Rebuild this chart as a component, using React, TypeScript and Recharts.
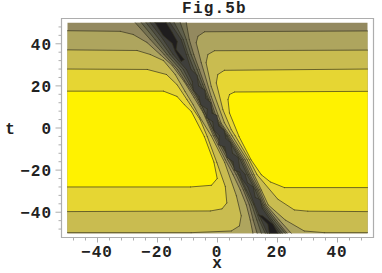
import { ScatterChart, Scatter, XAxis, YAxis, ReferenceArea } from 'recharts'

type Pair = [number, number]

const X_TICKS = [-48, -44, -40, -36, -32, -28, -24, -20, -16, -12, -8, -4, 0, 4, 8, 12, 16, 20, 24, 28, 32, 36, 40, 44, 48]
const T_TICKS = [-48, -44, -40, -36, -32, -28, -24, -20, -16, -12, -8, -4, 0, 4, 8, 12, 16, 20, 24, 28, 32, 36, 40, 44, 48]
const MAJOR_TICKS = [-40, -20, 0, 20, 40]

// contour outlines, as [x, t]
const FIELD: Pair[] = [[-50, 50], [50, 50], [50, -50], [-50, -50]]

const BAND_1: Pair[] = [
  [-27.4, 50], [-22.4, 42], [-17.8, 34.9], [-13.4, 27.8], [-10.1, 20.6], [-6.8, 13.5], [-3.8, 4.9], [-0.9, -3.7], [3.4, -15.1], [6.2, -22.2], [8.6, -29.4], [10.6, -36.5], [11.9, -43.7], [13.2, -50],
  [23.2, -50], [19.6, -43.7], [15.7, -36.5], [13.6, -29.4], [10.9, -22.2], [8.6, -15.1], [3.6, -3.7], [-0.3, 4.9], [-2.4, 13.5], [-4.3, 20.6], [-6.1, 27.8], [-7.9, 34.9], [-9.4, 42], [-10.4, 50],
]
const BAND_2: Pair[] = [
  [-25.4, 50], [-20.8, 42], [-16.8, 34.9], [-12.4, 27.8], [-9.4, 20.6], [-6.3, 13.5], [-3.3, 4.9], [-0.4, -3.7], [4.1, -15.1], [6.9, -22.2], [9.2, -29.4], [11.4, -36.5], [13.1, -43.7], [14.6, -50],
  [22.6, -50], [18.9, -43.7], [15.2, -36.5], [13.1, -29.4], [10.4, -22.2], [8.1, -15.1], [3.2, -3.7], [-0.8, 4.9], [-2.9, 13.5], [-4.9, 20.6], [-6.8, 27.8], [-8.8, 34.9], [-10.4, 42], [-12.4, 50],
]
const BAND_3: Pair[] = [
  [-23.8, 50], [-19.4, 42], [-15.8, 34.9], [-11.4, 27.8], [-8.8, 20.6], [-6.2, 13.5], [-3.3, 4.9], [-0.3, -3.7], [4.4, -15.1], [7.2, -22.2], [9.6, -29.4], [12.1, -36.5], [13.9, -43.7], [15.9, -50],
  [21.6, -50], [18.2, -43.7], [14.7, -36.5], [12.6, -29.4], [9.9, -22.2], [7.6, -15.1], [2.9, -3.7], [-1.1, 4.9], [-3.2, 13.5], [-5.6, 20.6], [-7.8, 27.8], [-9.8, 34.9], [-11.4, 42], [-14.4, 50],
]
const BAND_4: Pair[] = [
  [-22.4, 50], [-18.1, 42], [-14.8, 34.9], [-10.4, 27.8], [-8.4, 22], [-8.1, 18], [-6.2, 15], [-5.6, 11], [-3.4, 9], [-3.6, 5], [-1.6, 3], [-1.2, -1], [0.6, -3.7], [0.4, -8], [2.4, -9], [3.2, -14], [5.2, -16], [5.6, -20], [7.4, -21], [8.1, -24], [10.1, -28], [12.2, -36], [14.6, -43.7], [16.6, -50],
  [20.9, -50], [17.6, -43.7], [14.9, -38], [14.2, -34], [12.6, -33], [11.9, -28], [10, -26], [9.2, -22], [7.4, -19], [6.9, -14], [5, -12], [4.4, -7], [2.8, -5], [2.2, -1], [0.4, 1], [-0.2, 6], [-1.8, 7], [-2.2, 12], [-3.9, 14], [-4.2, 18], [-6.3, 20], [-6.8, 25], [-8.8, 27.8], [-10.4, 34.9], [-12.1, 42], [-15.8, 50],
]
const CORE_TOP: Pair[] = [[-20.8, 50], [-17.1, 50], [-15.1, 45.4], [-13.4, 41.1], [-13.8, 37.3], [-11.1, 32.5], [-12.1, 31.6], [-14.1, 36.4], [-15.1, 40.2], [-18.1, 43.9]]
const CORE_BOTTOM: Pair[] = [[15.1, -41.8], [18.5, -45.7], [20.1, -50], [17.3, -50], [16.8, -45.7], [13.6, -41.2]]

const LEVEL_4_LEFT: Pair[] = [[-50, 46.2], [-32.4, 45.9], [-28.1, 44.4], [-23.5, 40.6], [-19.1, 34.9], [-15.1, 29.7], [-11.1, 22], [-7.8, 14.4], [-4.8, 7.3], [-1.4, -3.7], [2.6, -15.1], [5.2, -22.2], [7.6, -29.4], [9.6, -36.5], [10.9, -43.7], [11.8, -50], [-50, -50]]
const LEVEL_4_RIGHT: Pair[] = [[50, 46.1], [-4.3, 45.7], [-6.5, 43.6], [-7.1, 40.5], [-5.4, 31], [-2.1, 15], [1.2, 2.4], [4.1, -3.7], [9.2, -15.1], [11.6, -22.2], [14.1, -29.4], [16.2, -36.5], [20.6, -43.7], [24.6, -50], [50, -50]]
const LEVEL_3_LEFT: Pair[] = [[-50, 37.1], [-26.8, 36.8], [-22.4, 34.9], [-18, 32], [-14.1, 25.4], [-10.8, 17.3], [-8.1, 11], [-5.8, 4.9], [-2.1, -3.7], [2.4, -16.4], [6.3, -32.2], [7.9, -41.7], [7.3, -46.5], [4.6, -48.9], [-8.8, -49.7], [-50, -49.7]]
const LEVEL_3_RIGHT: Pair[] = [[50, 37], [-1, 36.7], [-3.2, 34.9], [-3.8, 31], [-2.1, 19.8], [2.3, 2.5], [4.9, -3.7], [9.9, -15.1], [12.2, -22.2], [14.6, -29.4], [16.9, -36.5], [22.6, -43.7], [28.9, -48.9], [35.6, -49.7], [50, -49.7]]
const LEVEL_2_LEFT: Pair[] = [[-50, 28], [-23.4, 27.8], [-17, 25.4], [-13.5, 20.6], [-10.2, 13.5], [-5.8, 4], [-3.4, -4.1], [-0.2, -16.5], [2.6, -27.8], [3.1, -35.6], [1.5, -38.4], [-2.4, -39.4], [-50, -39.7]]
const LEVEL_2_RIGHT: Pair[] = [[50, 28], [2.3, 27.4], [0.1, 25.4], [-0.4, 21.4], [1.8, 8.7], [4.6, -0.8], [5.9, -3.7], [10.6, -15.1], [13.2, -22.2], [20.1, -33.8], [25.6, -38.9], [30.1, -39.5], [50, -39.7]]
const LEVEL_1_LEFT: Pair[] = [[-50, 17.5], [-18, 17.5], [-13.5, 15], [-11, 11], [-8.7, 7.8], [-4.4, -4], [-1.2, -16.2], [-0.1, -24], [-2, -27.2], [-9, -28], [-50, -28]]
const LEVEL_1_RIGHT: Pair[] = [[50, 17.4], [5.7, 17.1], [4, 15.9], [3.5, 13.5], [4, 7.1], [7.2, -4.1], [11.2, -15.1], [14.6, -22.2], [17.6, -25.6], [22.3, -28.3], [50, -28.3]]

const LAYERS: { name: string; outline: Pair[]; fill: string }[] = [
  { name: 'field', outline: FIELD, fill: '#93895f' },
  { name: 'band1', outline: BAND_1, fill: '#757152' },
  { name: 'band2', outline: BAND_2, fill: '#5f5f4c' },
  { name: 'band3', outline: BAND_3, fill: '#4e4e44' },
  { name: 'band4', outline: BAND_4, fill: '#3f3f3b' },
  { name: 'coreTop', outline: CORE_TOP, fill: '#1f1d1e' },
  { name: 'coreBottom', outline: CORE_BOTTOM, fill: '#1f1d1e' },
  { name: 'level4l', outline: LEVEL_4_LEFT, fill: '#aea55e' },
  { name: 'level4r', outline: LEVEL_4_RIGHT, fill: '#aea55e' },
  { name: 'level3l', outline: LEVEL_3_LEFT, fill: '#c9bc50' },
  { name: 'level3r', outline: LEVEL_3_RIGHT, fill: '#c9bc50' },
  { name: 'level2l', outline: LEVEL_2_LEFT, fill: '#e6d633' },
  { name: 'level2r', outline: LEVEL_2_RIGHT, fill: '#e6d633' },
  { name: 'level1l', outline: LEVEL_1_LEFT, fill: '#fff200' },
  { name: 'level1r', outline: LEVEL_1_RIGHT, fill: '#fff200' },
]

const FONT = '"Liberation Mono", "DejaVu Sans Mono", monospace'
const INK = '#222'
const FRAME = '#adadad'

const fmt = (v: number) => (v < 0 ? `\u2212${-v}` : `${v}`)

// the edge of the plotted square carries no contour line
const onEdge = (a: Pair, b: Pair) =>
  (Math.abs(a[0]) === 50 && a[0] === b[0]) || (Math.abs(a[1]) === 50 && a[1] === b[1])

function contourShape(outline: Pair[], fill: string) {
  return (props: any) => {
    const pts: { x: number; y: number }[] = props.points
    const area = pts.map((p, i) => `${i ? 'L' : 'M'}${p.x},${p.y}`).join('') + 'Z'
    let line = ''
    pts.forEach((p, i) => {
      const next = (i + 1) % pts.length
      if (onEdge(outline[i], outline[next])) return
      line += `M${p.x},${p.y}L${pts[next].x},${pts[next].y}`
    })
    return (
      <g>
        <path d={area} fill={fill} stroke="none" />
        <path d={line} fill="none" stroke="#332f1c" strokeOpacity={0.75} strokeWidth={0.9} strokeLinecap="round" />
      </g>
    )
  }
}

function XTick({ x, y, payload }: any) {
  const major = MAJOR_TICKS.includes(payload.value)
  return (
    <g>
      <line x1={x} x2={x} y1={y} y2={y + (major ? 5 : 3)} stroke={FRAME} />
      {major && (
        <text x={x - 0.5} y={y + 19.5} textAnchor="middle" fontFamily={FONT} fontWeight={700} fontSize={16} letterSpacing={1} fill={INK}>
          {fmt(payload.value)}
        </text>
      )}
    </g>
  )
}

function YTick({ x, y, payload }: any) {
  const major = MAJOR_TICKS.includes(payload.value)
  return (
    <g>
      <line x1={x} x2={x - (major ? 6 : 3)} y1={y} y2={y} stroke={FRAME} />
      {major && (
        <text x={x - 9.5} y={y + 6} textAnchor="end" fontFamily={FONT} fontWeight={700} fontSize={16} letterSpacing={1} fill={INK}>
          {fmt(payload.value)}
        </text>
      )}
    </g>
  )
}

export default function App() {
  return (
    <div style={{ position: 'absolute', left: 0, top: 0, width: 382, height: 273 }}>
      <ScatterChart width={382} height={273} margin={{ top: 18.5, right: 8.5, bottom: 0, left: 0 }}>
        <XAxis
          type="number"
          dataKey="x"
          domain={[-52, 52]}
          ticks={X_TICKS}
          interval={0}
          height={35.5}
          axisLine={false}
          tickLine={false}
          tickSize={0}
          tickMargin={0}
          tick={<XTick />}
        />
        <YAxis
          type="number"
          dataKey="t"
          domain={[-52, 52]}
          ticks={T_TICKS}
          interval={0}
          width={61.5}
          axisLine={false}
          tickLine={false}
          tickSize={0}
          tickMargin={0}
          tick={<YTick />}
        />
        <ReferenceArea x1={-52} x2={52} y1={-52} y2={52} fill="#fff" fillOpacity={0} stroke={FRAME} strokeWidth={1.2} />
        {LAYERS.map((layer) => (
          <Scatter
            key={layer.name}
            data={layer.outline.map(([x, t]) => ({ x, t }))}
            line={contourShape(layer.outline, layer.fill)}
            shape={() => <g />}
            isAnimationActive={false}
          />
        ))}
        <text x={214.5} y={13} textAnchor="middle" fontFamily={FONT} fontWeight={700} fontSize={16} letterSpacing={1.2} fill={INK}>
          Fig.5b
        </text>
        <text x={217} y={268} textAnchor="middle" fontFamily={FONT} fontWeight={700} fontSize={16} fill={INK}>
          x
        </text>
        <text x={10} y={134} textAnchor="middle" fontFamily={FONT} fontWeight={700} fontSize={16} fill={INK}>
          t
        </text>
      </ScatterChart>
    </div>
  )
}
